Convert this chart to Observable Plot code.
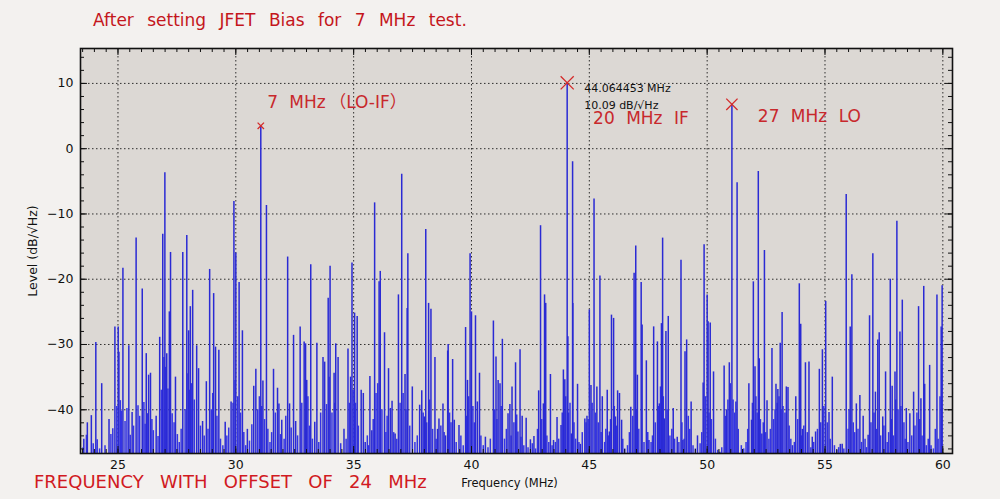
<!DOCTYPE html>
<html><head><meta charset="utf-8">
<script src="https://cdn.jsdelivr.net/npm/d3@7"></script>
<script src="https://cdn.jsdelivr.net/npm/@observablehq/plot@0.6"></script>
<style>
body{margin:0;background:#f3f1ef;}
#wrap{position:relative;width:1000px;height:499px;overflow:hidden;background:#f3f1ef;}
#title{position:absolute;left:93px;top:11px;font:17px "DejaVu Sans",sans-serif;color:#c4161c;word-spacing:8px;line-height:18px;white-space:nowrap;z-index:2;}
#caption{position:absolute;left:34px;top:473px;font:18px "DejaVu Sans",sans-serif;color:#d11a22;word-spacing:10.5px;line-height:17px;white-space:nowrap;z-index:2;}
#chart{position:absolute;left:0;top:0;}
</style></head>
<body><div id="wrap">
<div id="title">After setting JFET Bias for 7 MHz test.</div>
<div id="caption">FREQUENCY WITH OFFSET OF 24 MHz</div>
<div id="chart"></div>
</div>
<script>
// ---- data (frequency MHz, level dB/√Hz) ----
const xDomain = [23.41, 60.41];
const yDomain = [-46.7, 15.35];
const xTicks = [25, 30, 35, 40, 45, 50, 55, 60];
const yTicks = [-40, -30, -20, -10, 0, 10];

const spikes = [
[23.55,-44.5],[23.70,-42.0],[23.87,-40.9],[24.06,-29.7],[24.31,-36.0],[24.62,-41.5],[24.87,-27.3],[25.01,-27.3],[25.04,-31.2],
[25.21,-18.3],[25.46,-30.2],[25.60,-40.4],[25.77,-13.7],[26.03,-21.5],[26.20,-31.4],[26.30,-34.7],[26.38,-34.4],
[26.62,-41.0],[26.77,-28.9],[26.90,-13.1],[26.99,-3.7],[27.07,-31.4],[27.18,-25.0],[27.23,-15.9],[27.44,-35.0],
[27.75,-15.9],[27.92,-13.3],[28.00,-27.9],[28.07,-24.2],[28.17,-21.7],[28.34,-30.2],[28.42,-33.7],[28.59,-41.8],
[28.75,-35.7],[28.89,-18.5],[29.06,-22.2],[29.14,-30.4],[29.28,-30.9],[29.55,-41.9],[29.80,-38.8],[29.92,-8.1],
[30.00,-16.0],[30.14,-20.5],[30.28,-27.9],[30.49,-43.0],[30.76,-36.4],[30.85,-33.8],[31.06,3.5],[31.15,-35.6],
[31.30,-8.7],[31.60,-33.8],[31.77,-36.7],[31.83,-39.1],[31.95,-41.6],[32.20,-16.6],[32.28,-39.1],[32.45,-28.6],
[32.54,-41.8],[32.73,-27.3],[32.90,-29.6],[32.96,-29.9],[33.01,-35.5],[33.18,-17.8],[33.35,-41.9],[33.44,-29.8],
[33.70,-32.0],[33.77,-32.7],[33.92,-22.9],[34.00,-18.0],[34.17,-34.4],[34.24,-29.9],[34.34,-32.0],[34.59,-43.0],
[34.76,-30.7],[34.87,-35.0],[34.93,-17.5],[35.04,-25.2],[35.15,-25.7],[35.32,-37.0],[35.41,-37.5],[35.49,-45.0],
[35.69,-34.9],[35.77,-43.2],[35.89,-8.3],[36.08,-20.4],[36.13,-18.8],[36.31,-28.2],[36.48,-33.7],[36.56,-39.8],
[36.63,-38.7],[36.76,-43.7],[36.90,-22.4],[37.04,-3.9],[37.18,-34.6],[37.27,-24.5],[37.30,-16.1],[37.49,-36.5],
[37.80,-39.3],[37.89,-37.1],[38.00,-41.1],[38.06,-12.4],[38.18,-23.7],[38.28,-24.6],[38.45,-32.0],[38.56,-43.0],
[38.62,-41.4],[38.79,-39.1],[38.90,-44.0],[38.99,-31.0],[39.01,-30.0],[39.20,-32.3],[39.27,-41.6],[39.47,-42.4],
[39.75,-27.4],[39.83,-35.5],[39.94,-16.1],[40.00,-25.0],[40.17,-25.6],[40.25,-38.8],[40.34,-34.4],[40.59,-44.2],
[40.93,-26.4],[41.04,-31.9],[41.13,-35.5],[41.21,-36.0],[41.31,-29.2],[41.55,-40.6],[41.63,-39.2],[41.72,-36.5],
[41.87,-32.8],[41.97,-43.4],[42.06,-30.8],[42.15,-41.0],[42.32,-41.3],[42.50,-44.6],[42.65,-44.1],[42.85,-37.1],
[42.93,-11.8],[43.05,-39.1],[43.10,-22.4],[43.15,-23.7],[43.35,-34.6],[43.48,-44.7],[43.63,-41.2],[43.80,-42.4],
[43.90,-33.9],[43.96,-35.4],[44.06,10.09],[44.09,-28.8],[44.24,-43.7],[44.29,-2.0],[44.30,-23.7],[44.50,-36.1],
[44.62,-45.3],[44.81,-41.4],[44.90,-41.0],[45.00,-24.7],[45.07,-36.3],[45.20,-7.7],[45.32,-36.5],[45.45,-19.5],
[45.55,-38.0],[45.76,-37.0],[45.85,-43.4],[45.94,-25.5],[46.03,-26.0],[46.11,-41.1],[46.20,-37.1],[46.28,-37.5],
[46.37,-41.6],[46.76,-39.6],[46.90,-19.1],[46.97,-14.9],[47.04,-34.7],[47.20,-20.5],[47.24,-27.0],[47.42,-32.5],
[47.53,-44.7],[47.73,-27.3],[47.89,-29.6],[47.97,-39.1],[48.06,-26.8],[48.11,-13.7],[48.18,-41.4],[48.25,-28.0],
[48.35,-25.7],[48.56,-39.8],[48.73,-44.2],[48.89,-17.1],[48.97,-44.7],[49.06,-31.1],[49.13,-29.3],[49.32,-38.8],
[49.59,-44.0],[49.83,-35.9],[49.87,-14.7],[50.00,-22.4],[50.04,-26.5],[50.13,-26.7],[50.27,-34.2],[50.54,-46.5],
[50.72,-33.3],[50.82,-40.0],[50.94,-32.8],[51.05,6.8],[51.22,-38.8],[51.27,-5.2],[51.77,-36.0],[51.88,-41.6],
[51.96,-20.4],[52.03,-33.4],[52.17,-3.5],[52.21,-32.2],[52.32,-43.7],[52.43,-15.6],[52.54,-38.6],[52.75,-30.6],
[52.92,-36.1],[53.00,-36.9],[53.10,-29.8],[53.18,-25.1],[53.36,-36.5],[53.43,-36.6],[53.62,-45.5],[53.76,-38.0],
[53.91,-20.7],[53.97,-26.9],[54.04,-43.0],[54.17,-32.8],[54.32,-32.7],[54.46,-44.2],[54.60,-43.4],[54.76,-33.8],
[54.89,-30.8],[55.03,-23.4],[55.17,-40.4],[55.31,-35.0],[55.65,-45.3],[55.73,-45.3],[55.90,-7.0],[56.07,-27.3],
[56.14,-19.3],[56.33,-39.1],[56.48,-37.8],[56.62,-41.0],[56.83,-43.9],[56.89,-25.6],[57.03,-16.1],[57.14,-37.3],
[57.24,-29.3],[57.30,-28.2],[57.45,-41.1],[57.57,-34.2],[57.77,-20.0],[57.85,-36.4],[57.97,-34.2],[58.05,-11.1],
[58.18,-28.1],[58.28,-23.2],[58.45,-39.8],[58.60,-40.6],[58.76,-37.3],[58.97,-24.2],[59.07,-38.3],[59.19,-21.1],
[59.23,-36.1],[59.44,-33.2],[59.75,-22.4],[59.93,-27.3],[59.97,-21.0]
];

const floorSpikes = [
[23.52,-45.8],[23.66,-43.9],[23.95,-45.2],[24.12,-44.6],[24.22,-46.0],[24.45,-45.5],[24.70,-43.8],[24.78,-42.9],
[24.95,-39.5],[25.10,-38.6],[25.15,-40.2],[25.30,-41.8],[25.38,-39.8],[25.52,-43.9],[25.66,-42.5],[25.85,-39.4],
[25.92,-41.0],[26.10,-38.9],[26.15,-42.2],[26.25,-40.6],[26.44,-41.5],[26.50,-43.2],[26.70,-44.1],[26.84,-37.0],
[26.95,-32.0],[27.02,-33.5],[27.12,-36.8],[27.30,-40.6],[27.38,-42.0],[27.52,-43.8],[27.60,-45.0],[27.68,-43.0],
[27.85,-40.0],[27.97,-34.5],[28.03,-37.0],[28.12,-36.0],[28.24,-38.5],[28.50,-42.5],[28.66,-44.0],[28.82,-43.0],
[28.96,-40.0],[29.02,-37.5],[29.20,-41.0],[29.35,-44.5],[29.45,-45.5],[29.62,-44.0],[29.70,-42.8],[29.88,-39.0],
[29.97,-35.5],[30.08,-38.0],[30.20,-40.5],[30.34,-43.5],[30.42,-45.5],[30.58,-44.8],[30.68,-42.3],[30.93,-40.0],
[31.00,-38.0],[31.10,-39.5],[31.22,-41.5],[31.36,-43.0],[31.45,-45.0],[31.52,-43.5],[31.68,-40.5],[31.90,-43.8],
[32.05,-44.5],[32.12,-41.0],[32.35,-42.8],[32.62,-44.0],[32.80,-39.0],[33.06,-38.0],[33.12,-42.5],[33.25,-44.5],
[33.52,-45.0],[33.60,-40.5],[33.85,-39.2],[33.96,-35.0],[34.08,-40.5],[34.20,-39.0],[34.45,-45.2],[34.68,-44.5],
[34.82,-39.0],[34.98,-37.0],[35.08,-39.0],[35.20,-42.5],[35.58,-44.0],[35.63,-45.5],[35.83,-41.5],[35.95,-37.5],
[36.02,-36.0],[36.20,-40.0],[36.37,-43.5],[36.42,-41.0],[36.70,-43.5],[36.83,-44.5],[36.97,-39.0],[37.10,-37.5],
[37.22,-40.0],[37.38,-42.5],[37.60,-45.0],[37.70,-44.0],[37.95,-40.5],[38.10,-42.0],[38.22,-38.5],[38.35,-43.0],
[38.50,-44.5],[38.70,-42.5],[38.84,-43.5],[39.07,-40.5],[39.13,-42.0],[39.35,-45.0],[39.55,-44.0],[39.65,-45.5],
[39.78,-41.0],[39.88,-38.0],[40.06,-39.5],[40.12,-42.0],[40.40,-44.0],[40.50,-45.5],[40.70,-45.8],[40.80,-44.5],
[40.98,-40.0],[41.08,-41.5],[41.26,-39.5],[41.40,-44.5],[41.48,-43.0],[41.68,-44.0],[41.80,-42.0],[41.92,-40.8],
[42.10,-44.2],[42.22,-45.5],[42.40,-45.8],[42.58,-45.2],[42.72,-46.0],[42.80,-43.0],[42.98,-41.5],[43.20,-44.0],
[43.28,-45.0],[43.42,-45.5],[43.56,-45.0],[43.70,-44.5],[43.85,-40.5],[44.00,-38.0],[44.12,-40.5],[44.18,-39.0],
[44.35,-42.0],[44.42,-44.5],[44.56,-45.0],[44.70,-43.5],[44.86,-42.0],[44.95,-41.5],[45.12,-39.0],[45.26,-40.5],
[45.38,-42.0],[45.50,-43.5],[45.65,-45.0],[45.70,-43.0],[45.82,-44.0],[45.90,-41.5],[46.06,-39.5],[46.15,-42.5],
[46.42,-44.5],[46.50,-46.0],[46.62,-45.5],[46.70,-43.5],[46.84,-41.0],[47.00,-40.0],[47.10,-43.0],[47.32,-45.0],
[47.48,-43.5],[47.62,-45.0],[47.68,-44.0],[47.80,-42.0],[47.93,-39.5],[48.02,-36.5],[48.14,-38.0],[48.30,-40.0],
[48.42,-44.0],[48.50,-43.0],[48.62,-44.5],[48.80,-45.0],[48.93,-42.0],[49.02,-44.5],[49.20,-41.0],[49.26,-43.0],
[49.40,-45.5],[49.50,-46.0],[49.70,-45.2],[49.77,-43.5],[49.93,-38.0],[50.08,-40.5],[50.18,-41.5],[50.35,-44.5],
[50.45,-46.2],[50.62,-45.8],[50.78,-41.0],[50.88,-38.5],[50.98,-36.0],[51.10,-38.5],[51.16,-40.5],[51.32,-43.0],
[51.45,-45.5],[51.55,-46.0],[51.65,-45.0],[51.72,-43.0],[51.92,-39.0],[52.07,-38.0],[52.12,-40.5],[52.26,-41.5],
[52.38,-42.0],[52.48,-43.5],[52.62,-44.5],[52.68,-43.0],[52.82,-41.5],[52.88,-40.0],[52.97,-39.0],[53.05,-38.0],
[53.14,-40.0],[53.22,-39.5],[53.30,-40.5],[53.48,-42.5],[53.55,-44.5],[53.70,-45.0],[53.84,-41.5],[54.00,-44.0],
[54.10,-42.5],[54.25,-43.5],[54.40,-45.8],[54.52,-45.0],[54.68,-43.0],[54.82,-42.0],[54.95,-39.5],[55.10,-42.0],
[55.22,-44.5],[55.40,-45.5],[55.50,-46.2],[55.58,-45.8],[55.80,-46.0],[55.98,-43.0],[56.02,-40.0],[56.20,-42.0],
[56.26,-43.5],[56.40,-43.0],[56.55,-45.0],[56.70,-44.5],[56.76,-45.8],[56.95,-42.0],[57.08,-40.5],[57.18,-43.0],
[57.36,-44.0],[57.50,-42.5],[57.64,-45.0],[57.70,-43.5],[57.82,-41.5],[57.90,-44.0],[58.00,-38.5],[58.10,-40.0],
[58.22,-39.5],[58.35,-42.0],[58.40,-44.5],[58.52,-45.0],[58.68,-44.0],[58.82,-42.5],[58.90,-40.5],[59.02,-41.5],
[59.12,-44.0],[59.30,-45.5],[59.38,-44.5],[59.50,-45.5],[59.60,-46.0],[59.68,-43.0],[59.80,-44.5],[59.88,-38.0],
[59.95,-33.0]
];

// markers on the three labelled peaks: [freq, level, size]
const markers = [[31.06, 3.5, 3], [44.06, 10.09, 6], [51.05, 6.8, 5.2]];
// red annotations: [freq, level, text]
const redNotes = [[31.33, 6.2, "7 MHz\u2009（LO-IF）"], [45.16, 3.8, "20 MHz IF"], [52.15, 4.1, "27 MHz LO"]];
// black readout of the marker
const readout = [[44.78, 8.65, "44.064453 MHz"], [44.78, 6.05, "10.09 dB/√Hz"]];
const xLabel = "Frequency (MHz)";
const yLabel = "Level (dB/√Hz)";

const minorX = d3.range(23.5, 60.41, 0.5);
const minorY = d3.range(-46, 15.35, 2);
const yBase = yDomain[0];
const W = 1000, H = 499, mL = 80, mR = 48, mT = 48, mB = 46;
const plotH = H - mT - mB, plotW = W - mL - mR;

const chart = Plot.plot({
  width: W, height: H,
  marginLeft: mL, marginRight: mR, marginTop: mT, marginBottom: mB,
  style: {background: "transparent", fontFamily: "DejaVu Sans, sans-serif", color: "#111"},
  x: {domain: xDomain},
  y: {domain: yDomain},
  r: {type: "identity"},
  marks: [
    Plot.frame({fill: "#dcd8d4"}),
    Plot.gridX(xTicks, {stroke: "#111", strokeOpacity: 0.85, strokeDasharray: "1.5,2.5"}),
    Plot.gridY(yTicks, {stroke: "#111", strokeOpacity: 0.85, strokeDasharray: "1.5,2.5"}),
    Plot.ruleX(floorSpikes, {x: d => d[0], y1: d => yBase, y2: d => d[1], stroke: "#3434e4", strokeWidth: 1.5}),
    Plot.ruleX(spikes, {x: d => d[0], y1: d => yBase, y2: d => d[1], stroke: "#2a2ad4", strokeWidth: 1.5}),
    // inward ticks on the four sides
    Plot.tickX(minorX, {x: d => d, insetBottom: plotH - 4, stroke: "#111"}),
    Plot.tickX(minorX, {x: d => d, insetTop: plotH - 4, stroke: "#111"}),
    Plot.tickX(xTicks, {x: d => d, insetBottom: plotH - 7, stroke: "#111"}),
    Plot.tickX(xTicks, {x: d => d, insetTop: plotH - 7, stroke: "#111"}),
    Plot.tickY(minorY, {y: d => d, insetRight: plotW - 4, stroke: "#111"}),
    Plot.tickY(minorY, {y: d => d, insetLeft: plotW - 4, stroke: "#111"}),
    Plot.tickY(yTicks, {y: d => d, insetRight: plotW - 7, stroke: "#111"}),
    Plot.tickY(yTicks, {y: d => d, insetLeft: plotW - 7, stroke: "#111"}),
    Plot.frame({stroke: "#111", strokeWidth: 1.6}),
    Plot.axisX(xTicks, {tickSize: 0, tickPadding: 7, fontSize: 12.5, label: null}),
    Plot.text([xLabel], {text: d => d, frameAnchor: "bottom", dy: 30, dx: -7, lineAnchor: "middle", fontSize: 11.5, fill: "#111"}),
    Plot.axisY(yTicks, {tickSize: 0, tickPadding: 7, fontSize: 12.5, label: null}),
    Plot.axisY([], {label: yLabel, labelAnchor: "center", labelArrow: "none", labelOffset: 52, fontSize: 12.5}),
    Plot.dot(markers, {x: d => d[0], y: d => d[1], r: d => d[2], symbol: "times", stroke: "#d42a2a", strokeWidth: 1.3}),
    Plot.text(redNotes, {x: d => d[0], y: d => d[1], text: d => d[2], textAnchor: "start", lineAnchor: "bottom", fill: "#c8282c", fontSize: 17, fontFamily: "DejaVu Sans, 'Noto Sans CJK JP', sans-serif"}),
    Plot.text(readout, {x: d => d[0], y: d => d[1], text: d => d[2], textAnchor: "start", lineAnchor: "bottom", fill: "#111", fontSize: 11})
  ]
});
chart.querySelectorAll("text").forEach(t => {
  if (/MHz|LO/.test(t.textContent) && t.getAttribute("fill") === "#c8282c") t.style.wordSpacing = "6px";
});
chart.querySelectorAll("g[fill='#c8282c'] text").forEach(t => t.style.wordSpacing = "6px");
document.getElementById("chart").appendChild(chart);
</script>
</body></html>
